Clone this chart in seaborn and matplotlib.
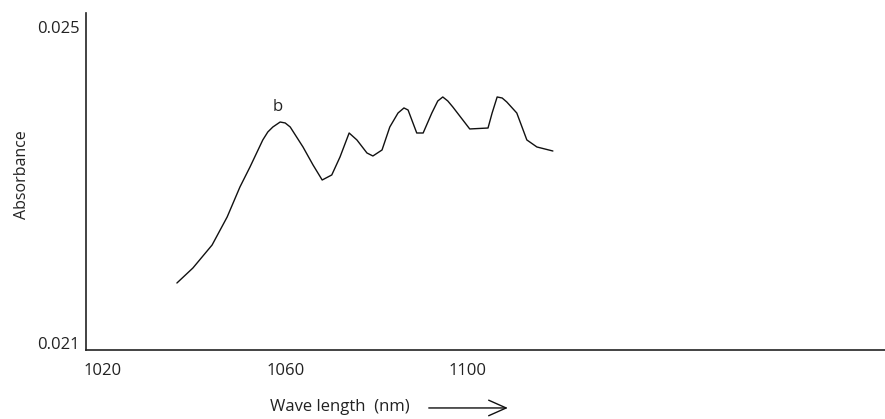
import matplotlib
matplotlib.use("Agg")
import matplotlib.pyplot as plt
import seaborn as sns
import pandas as pd

# Data
wavelength = [1036.3, 1039.8, 1044.0, 1047.3, 1050.1, 1052.3, 1055.1, 1056.2, 1057.3,
              1058.9, 1060.0, 1061.1, 1063.9, 1066.1, 1068.1, 1070.2, 1072.0, 1074.0,
              1075.7, 1077.9, 1079.2, 1081.2, 1082.9, 1084.7, 1086.0, 1086.9, 1088.8,
              1090.2, 1092.1, 1093.4, 1094.5, 1095.6, 1096.7, 1100.4, 1104.4, 1105.3,
              1106.4, 1107.5, 1108.5, 1110.7, 1112.9, 1115.1, 1118.6]
absorbance = [0.021759, 0.021949, 0.022240, 0.022595, 0.022975, 0.023228, 0.023570,
              0.023671, 0.023734, 0.023797, 0.023785, 0.023734, 0.023481, 0.023253,
              0.023063, 0.023127, 0.023354, 0.023658, 0.023570, 0.023405, 0.023367,
              0.023443, 0.023734, 0.023911, 0.023975, 0.023949, 0.023658, 0.023658,
              0.023911, 0.024063, 0.024114, 0.024063, 0.023987, 0.023709, 0.023721,
              0.023911, 0.024114, 0.024101, 0.024051, 0.023911, 0.023570, 0.023481,
              0.023430]
x_ticks = [1020, 1060, 1100]
x_tick_labels = ["1020", "1060", "1100"]
y_ticks = [0.021, 0.025]
y_tick_labels = ["0.021", "0.025"]
peak_label = "b"
peak_pos = (1058.4, 0.023987)
x_label = "Wave length  (nm)"
y_label = "Absorbance"

df = pd.DataFrame({"wavelength": wavelength, "absorbance": absorbance})

sns.set_style("white")
plt.rcParams["font.family"] = ["Open Sans", "DejaVu Sans"]

W, H = 885, 419
fig = plt.figure(figsize=(W / 100, H / 100), dpi=100)
ax = fig.add_axes([86 / W, (H - 350) / H, 799 / W, 337 / H])

sns.lineplot(data=df, x="wavelength", y="absorbance", ax=ax, color="#111111",
             lw=1.0, sort=False)

ax.set_xlim(1016.4, 1191.3)
ax.set_ylim(0.020911, 0.025177)

ax.set_xticks(x_ticks)
ax.set_xticklabels(x_tick_labels)
ax.set_yticks(y_ticks)
ax.set_yticklabels(y_tick_labels)
ax.tick_params(axis="x", length=0, pad=9, labelsize=12, labelcolor="#222222")
ax.tick_params(axis="y", length=0, pad=4.5, labelsize=12, labelcolor="#222222")

for s in ["top", "right"]:
    ax.spines[s].set_visible(False)
for s in ["left", "bottom"]:
    ax.spines[s].set_color("#222222")
    ax.spines[s].set_linewidth(1.2)

ax.set_xlabel(x_label, fontsize=12, color="#222222")
ax.xaxis.set_label_coords(0.318, -0.145)
ax.set_ylabel(y_label, fontsize=11.5, color="#222222")
ax.yaxis.set_label_coords(-0.07, 0.52)

ax.annotate("", xy=(0.528, -0.172), xytext=(0.429, -0.172),
            xycoords="axes fraction", textcoords="axes fraction",
            arrowprops=dict(arrowstyle="->,head_length=0.9,head_width=0.4",
                            lw=1.0, color="#111111", mutation_scale=14,
                            shrinkA=0, shrinkB=0),
            annotation_clip=False)

ax.text(peak_pos[0], peak_pos[1], peak_label, fontsize=12, color="#222222",
        ha="center", va="center")

fig.savefig("out.png", dpi=100)
